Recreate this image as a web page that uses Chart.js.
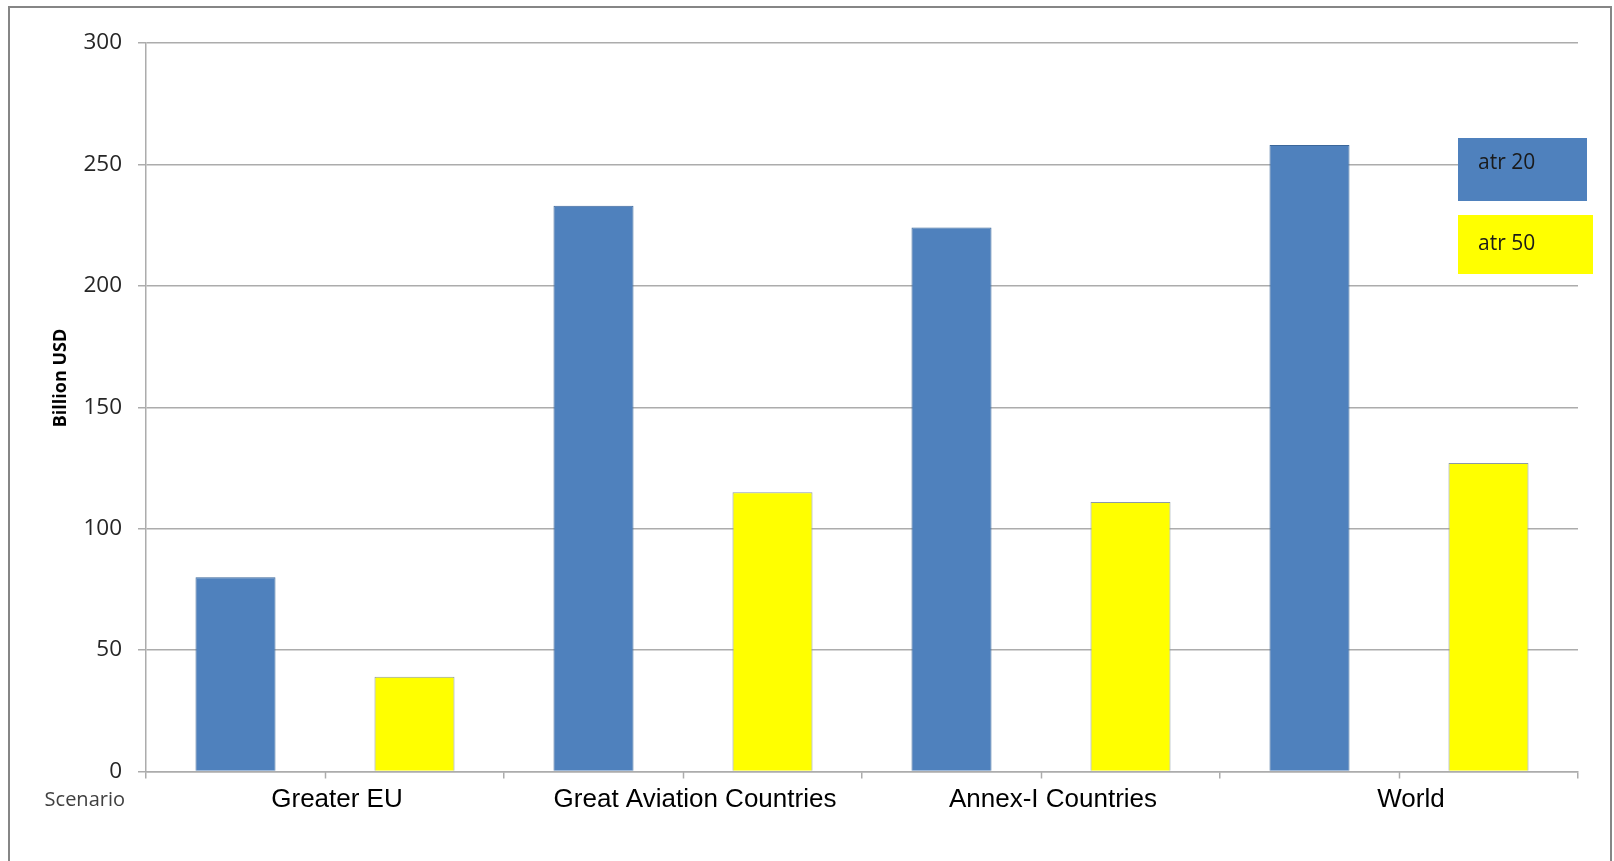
<!DOCTYPE html>
<html lang="en">
<head>
<meta charset="utf-8" />
<title>Billion USD by scenario</title>
<script src="https://cdn.jsdelivr.net/npm/chart.js@4.4.1/dist/chart.umd.min.js"></script>
<style>
    html, body { margin: 0; padding: 0; background: #fff; }
    #frame {
        position: absolute; left: 8px; top: 6px; width: 1604px; height: 880px;
        box-sizing: border-box; border: 2px solid #868686; border-bottom: none;
    }
    #myChart { position: absolute; left: 0; top: 0; }
</style>
</head>
<body>
<div id="frame"></div>
<canvas id="myChart" width="1614" height="861"></canvas>

<script>
// scenarios and values (billion USD)
var scenarios = ['Greater EU', 'Great Aviation Countries', 'Annex-I Countries', 'World'];
var atr20 = [80, 233, 224, 258];
var atr50 = [39, 115, 111, 127];
var seriesNames = ['atr 20', 'atr 50'];
var yMin = 0, yMax = 300, yStep = 50;

var gridColor = '#acacac';

// small tick marks under each category centre, plus the axis captions
var midTicks = {
    id: 'midTicks',
    afterDraw: function (chart) {
        var xs = chart.scales.x, area = chart.chartArea, ctx = chart.ctx;
        ctx.save();
        ctx.strokeStyle = gridColor;
        ctx.lineWidth = 1.5;
        for (var i = 0; i < scenarios.length; i++) {
            var x = Math.round(xs.getPixelForValue(i)) + 0.5;
            ctx.beginPath();
            ctx.moveTo(x, xs.top);
            ctx.lineTo(x, xs.top + 7);
            ctx.stroke();
        }
        // "Scenario" caption left of the category labels
        ctx.fillStyle = '#404040';
        ctx.font = '20px "Open Sans"';
        ctx.textAlign = 'right';
        ctx.textBaseline = 'middle';
        ctx.fillText('Scenario', area.left - 21, xs.top + 29);

        // value axis title, rotated
        ctx.translate(area.left - 85, area.top + 335);
        ctx.rotate(-Math.PI / 2);
        ctx.fillStyle = '#000';
        ctx.font = 'bold 18px "Open Sans"';
        ctx.textAlign = 'center';
        ctx.fillText('Billion USD', 0, 0);
        ctx.restore();
    }
};

// legend drawn as filled boxes with the series name inside
var legendBoxes = {
    id: 'legendBoxes',
    afterDraw: function (chart) {
        var ctx = chart.ctx, area = chart.chartArea;
        var boxes = [
            { top: area.top + 95, w: 129, h: 63, ty: 20 },
            { top: area.top + 172, w: 135, h: 59, ty: 24 }
        ];
        ctx.save();
        chart.data.datasets.forEach(function (ds, i) {
            var b = boxes[i];
            var left = area.right - 120;
            ctx.fillStyle = ds.backgroundColor;
            ctx.fillRect(left, b.top, b.w, b.h);
            ctx.fillStyle = '#1a1a1a';
            ctx.font = '21px "Open Sans"';
            ctx.textAlign = 'left';
            ctx.textBaseline = 'middle';
            ctx.fillText(ds.label, left + 20, b.top + b.ty + 5);
        });
        ctx.restore();
    }
};

var ctx = document.getElementById('myChart').getContext('2d');
var myChart = new Chart(ctx, {
    type: 'bar',
    data: {
        labels: scenarios,
        datasets: [{
            label: seriesNames[0],
            data: atr20,
            backgroundColor: '#4f81bd',
            borderColor: '#3b679a',
            borderWidth: 1
        }, {
            label: seriesNames[1],
            data: atr50,
            backgroundColor: '#ffff00',
            borderColor: '#8c9aa6',
            borderWidth: 1
        }]
    },
    options: {
        responsive: false,
        animation: false,
        layout: { padding: { left: 0, right: 36, top: 43, bottom: 0 } },
        categoryPercentage: 1,
        barPercentage: 0.447,
        plugins: {
            legend: { display: false },
            tooltip: { enabled: false }
        },
        scales: {
            x: {
                grid: {
                    offset: true,
                    drawOnChartArea: false,
                    color: gridColor,
                    lineWidth: 1.5,
                    tickLength: 7
                },
                border: { color: gridColor, width: 1.5 },
                ticks: {
                    color: '#000',
                    font: { family: '"Liberation Sans", Arial, sans-serif', size: 26 },
                    padding: 6,
                    labelOffset: 12,
                    maxRotation: 0
                },
                afterFit: function (scale) { scale.height = 89.5; }
            },
            y: {
                min: yMin,
                max: yMax,
                ticks: {
                    stepSize: yStep,
                    color: '#262626',
                    font: { family: '"Open Sans"', size: 22.5 },
                    padding: 16
                },
                grid: { color: gridColor, lineWidth: 1.5, tickLength: 8 },
                border: { color: gridColor, width: 1.5 },
                afterFit: function (scale) { scale.width = 146; }
            }
        }
    },
    plugins: [midTicks, legendBoxes]
});
</script>
</body>
</html>
